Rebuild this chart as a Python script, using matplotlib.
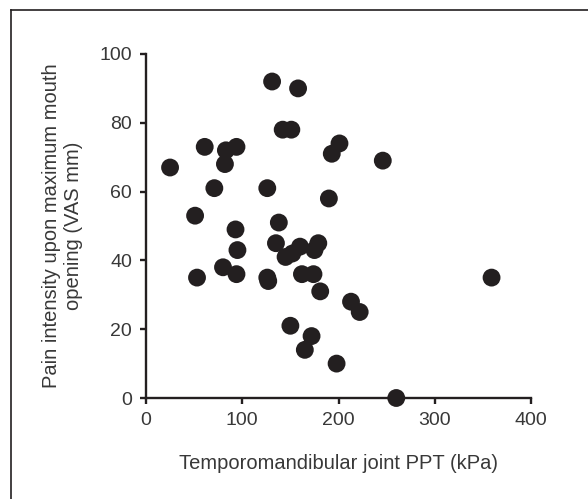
import matplotlib
matplotlib.use("Agg")
import matplotlib.pyplot as plt
from matplotlib.lines import Line2D

# Temporomandibular joint PPT (kPa) vs pain on max mouth opening (VAS mm)
ppt_kpa = [25, 51, 53, 61, 71, 80, 82, 83, 93, 94, 94, 95, 126, 126, 127,
           131, 135, 138, 142, 145, 150, 151, 152, 158, 160, 162, 165, 172,
           174, 175, 179, 181, 190, 193, 198, 201, 213, 222, 246, 260, 359]
vas_mm = [67, 53, 35, 73, 61, 38, 68, 72, 49, 73, 36, 43, 61, 35, 34,
          92, 45, 51, 78, 41, 21, 78, 42, 90, 44, 36, 14, 18,
          36, 43, 45, 31, 58, 71, 10, 74, 28, 25, 69, 0, 35]

x_ticks = [0, 100, 200, 300, 400]
y_ticks = [0, 20, 40, 60, 80, 100]

ink = '#231f20'
text_col = '#383838'

plt.rcParams['font.family'] = ['Liberation Sans', 'DejaVu Sans']

fig = plt.figure(figsize=(5.88, 4.99), dpi=100)
ax = fig.add_axes([0.2483, 0.2024, 0.6548, 0.6894])

ax.scatter(ppt_kpa, vas_mm, s=165, color=ink, edgecolors='none',
           clip_on=False, zorder=3)

ax.set_xlim(0, 400)
ax.set_ylim(0, 100)
ax.set_xticks(x_ticks)
ax.set_yticks(y_ticks)

for side in ['top', 'right']:
    ax.spines[side].set_visible(False)
for side in ['left', 'bottom']:
    ax.spines[side].set_color(ink)
    ax.spines[side].set_linewidth(1.7)

ax.tick_params(direction='out', length=4, width=1.7, color=ink,
               labelsize=14, labelcolor=text_col, pad=6)

ax.set_xlabel('Temporomandibular joint PPT (kPa)', fontsize=14.5,
              color=text_col, labelpad=18)
ax.set_ylabel('Pain intensity upon maximum mouth\nopening (VAS mm)',
              fontsize=14.5, color=text_col, labelpad=12, linespacing=1.2)

# cropped frame round the figure (only top and left edges show)
fig.add_artist(Line2D([11 / 588, 11 / 588], [0, 1 - 10 / 499],
                      transform=fig.transFigure, color=ink, lw=1.2))
fig.add_artist(Line2D([11 / 588, 1], [1 - 10 / 499, 1 - 10 / 499],
                      transform=fig.transFigure, color=ink, lw=1.2))

fig.savefig('out.png', dpi=100)
